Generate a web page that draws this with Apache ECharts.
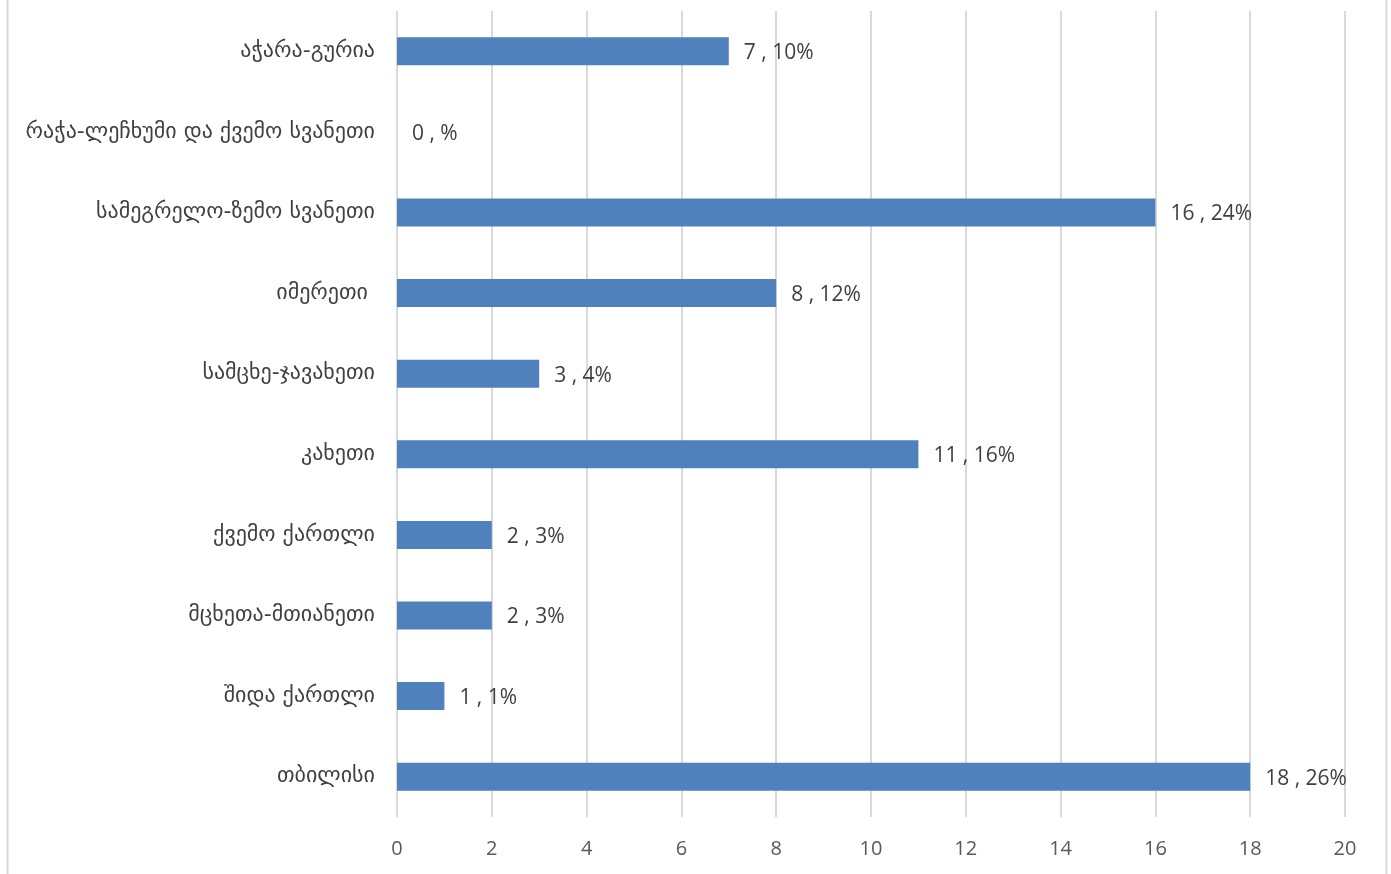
<!DOCTYPE html>
<html>
<head>
<meta charset="utf-8">
<script src="https://cdn.jsdelivr.net/npm/echarts@6/dist/echarts.min.js"></script>
<style>
  html, body { margin: 0; padding: 0; background: #fff; }
  #main { width: 1391px; height: 874px; }
</style>
</head>
<body>
<div id="main"></div>
<script>
// რეგიონები, ქვემოდან ზემოთ
const regions = [
  'თბილისი', 'შიდა ქართლი', 'მცხეთა-მთიანეთი', 'ქვემო ქართლი', 'კახეთი',
  'სამცხე-ჯავახეთი', 'იმერეთი ', 'სამეგრელო-ზემო სვანეთი',
  'რაჭა-ლეჩხუმი და ქვემო სვანეთი', 'აჭარა-გურია'
]
const counts = [18, 1, 2, 2, 11, 3, 8, 16, 0, 7]
const shares = ['26%', '1%', '3%', '3%', '16%', '4%', '12%', '24%', '%', '10%']

const chart = echarts.init(document.getElementById('main'))

const option = {
  backgroundColor: '#fff',
  animation: false,
  grid: { left: 397, right: 46, top: 11, bottom: 57, containLabel: false },
  xAxis: {
    type: 'value',
    min: 0, max: 20, interval: 2,
    axisLine: { show: false },
    axisTick: { show: false },
    axisLabel: { color: '#595959', fontSize: 20, fontFamily: 'Open Sans, DejaVu Sans', margin: 22 },
    splitLine: { lineStyle: { color: '#d9d9d9', width: 2 } }
  },
  yAxis: {
    type: 'category',
    data: regions,
    axisLine: { show: false },
    axisTick: { show: false },
    axisLabel: { color: '#404040', fontSize: 22, fontFamily: 'DejaVu Sans', margin: 22, padding: [3, 0, 0, 0] }
  },
  series: [{
    type: 'bar',
    data: counts,
    barWidth: 28,
    itemStyle: { color: '#4f81bd' },
    label: {
      show: true,
      position: 'right',
      distance: 15,
      offset: [0, 2],
      color: '#404040',
      fontSize: 21,
      fontFamily: 'Open Sans, DejaVu Sans',
      formatter: p => p.value + ' , ' + shares[p.dataIndex]
    }
  }],
  // рамка диаграммы
  graphic: [
    { type: 'line', shape: { x1: 7.5, y1: 0, x2: 7.5, y2: 874 }, style: { stroke: '#d9d9d9', lineWidth: 2 } },
    { type: 'line', shape: { x1: 1386.5, y1: 0, x2: 1386.5, y2: 874 }, style: { stroke: '#d9d9d9', lineWidth: 2 } }
  ]
}

chart.setOption(option, true)
</script>
</body>
</html>
